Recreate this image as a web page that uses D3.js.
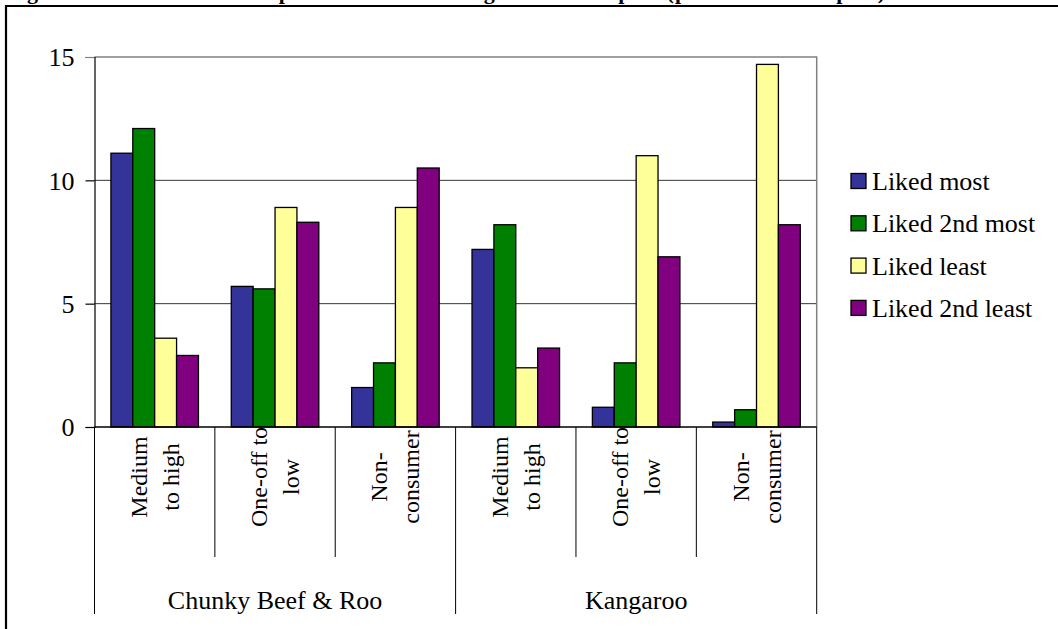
<!DOCTYPE html>
<html>
<head>
<meta charset="utf-8">
<script src="https://cdn.jsdelivr.net/npm/d3@7"></script>
<style>
  body { margin: 0; background: #fff; }
  svg { display: block; }
</style>
</head>
<body>
<svg id="chart"></svg>
<script>
// categories (two lines each, drawn rotated) and the product groups they belong to
const categories = ["C1", "C2", "C3", "K1", "K2", "K3"];
const categoryLines = [
  ["Medium", "to high"], ["One-off to", "low"], ["Non-", "consumer"],
  ["Medium", "to high"], ["One-off to", "low"], ["Non-", "consumer"]
];
const groups = ["Chunky Beef & Roo", "Kangaroo"];
const groupCategories = [["C1", "C2", "C3"], ["K1", "K2", "K3"]];

const series = ["Liked most", "Liked 2nd most", "Liked least", "Liked 2nd least"];
const seriesColors = ["#333399", "#008000", "#ffff99", "#800080"];

// per cent of samples
const likedMost     = [11.1, 5.7, 1.6, 7.2, 0.8, 0.2];
const liked2ndMost  = [12.1, 5.6, 2.6, 8.2, 2.6, 0.7];
const likedLeast    = [3.6, 8.9, 8.9, 2.4, 11.0, 14.7];
const liked2ndLeast = [2.9, 8.3, 10.5, 3.2, 6.9, 8.2];
const seriesValues = [likedMost, liked2ndMost, likedLeast, liked2ndLeast];

const yTicks = [0, 5, 10, 15];
const title = "Figure 4: Consumer taste preferences for kangaroo-based pies (per cent of samples)";

const W = 1058, H = 629;
const plot = { left: 94.5, right: 816.7, top: 57, bottom: 427 };

const svg = d3.select('#chart').attr('width', W).attr('height', H);

// pick a serif face that is really installed (compare widths against two fallbacks)
function pickFont() {
  const cands = ['Liberation Serif', 'Times New Roman', 'Tinos', 'Times', 'Nimbus Roman', 'Nimbus Roman No9 L',
    'DejaVu Serif', 'Noto Serif', 'FreeSerif', 'Georgia', 'PT Serif', 'Droid Serif', 'Bitstream Charter',
    'C059', 'P052', 'STIXGeneral', 'Libertinus Serif', 'Noto Serif CJK SC', 'Noto Serif CJK JP', 'Source Han Serif SC'];
  const probe = svg.append('text').attr('font-size', 40).text('Medium to high Chunky Beef 1015');
  const width = f => { probe.attr('font-family', f); return probe.node().getComputedTextLength(); };
  const baseM = width('monospace'), baseS = width('sans-serif');
  let found = 'serif';
  for (const c of cands) {
    const a = width(`"${c}", monospace`), b = width(`"${c}", sans-serif`);
    if (Math.abs(a - baseM) > 0.5 && Math.abs(b - baseS) > 0.5) { found = `"${c}", serif`; break; }
  }
  probe.remove();
  return found;
}
const FONT = pickFont();
svg.attr('font-family', FONT);

svg.append('rect').attr('width', W).attr('height', H).attr('fill', '#fff');

// caption, mostly cut off by the top of the page
svg.append('text')
  .attr('x', 5).attr('y', -1.5)
  .attr('font-size', 22).attr('font-weight', 'bold')
  .attr('textLength', 880).attr('lengthAdjust', 'spacing')
  .text(title);

// outer frame (runs past right and bottom of the page)
svg.append('path')
  .attr('d', `M6,${H + 5}V6H${W + 5}`)
  .attr('fill', 'none').attr('stroke', '#000').attr('stroke-width', 2.2);

const x0 = d3.scaleBand().domain(categories).range([plot.left, plot.right]);
const x1 = d3.scaleBand().domain(series).range([0, x0.bandwidth()]).paddingOuter(0.75);
const y = d3.scaleLinear().domain([0, 15]).range([plot.bottom, plot.top]);

// gridlines
svg.append('g').selectAll('line').data(yTicks.filter(d => d > 0 && d < 15)).enter()
  .append('line')
  .attr('x1', plot.left).attr('x2', plot.right)
  .attr('y1', d => y(d)).attr('y2', d => y(d))
  .attr('stroke', '#000').attr('stroke-width', 0.8);

// plot area top/right border (grey)
svg.append('path')
  .attr('d', `M${plot.left},${y(15)}H${plot.right}V${plot.bottom}`)
  .attr('fill', 'none').attr('stroke', '#808080').attr('stroke-width', 1.5);

// bars
const rows = categories.map((c, i) => ({ cat: c, vals: series.map((s, j) => ({ s, v: seriesValues[j][i], j })) }));
const cat = svg.append('g').selectAll('g').data(rows).enter()
  .append('g').attr('transform', d => `translate(${x0(d.cat)},0)`);
cat.selectAll('rect').data(d => d.vals).enter()
  .append('rect')
  .attr('x', d => x1(d.s))
  .attr('width', x1.bandwidth())
  .attr('y', d => y(d.v))
  .attr('height', d => y(0) - y(d.v))
  .attr('fill', d => seriesColors[d.j])
  .attr('stroke', '#000').attr('stroke-width', 1.3);

// y axis
const yAxis = svg.append('g')
  .attr('transform', `translate(${plot.left},0)`)
  .call(d3.axisLeft(y).tickValues(yTicks).tickSize(9).tickPadding(11).tickFormat(d3.format('d')))
  .attr('font-family', FONT);
yAxis.select('.domain').attr('stroke', '#000').attr('stroke-width', 1.2);
yAxis.selectAll('.tick line').attr('stroke', (d) => d === 15 ? '#808080' : '#000').attr('stroke-width', 1.2);
yAxis.selectAll('.tick text')
  .attr('font-size', 26).attr('fill', '#000')
  .attr('dy', '0.34em');

// x axis baseline
svg.append('line')
  .attr('x1', plot.left).attr('x2', plot.right)
  .attr('y1', plot.bottom).attr('y2', plot.bottom)
  .attr('stroke', '#000').attr('stroke-width', 1.5);

// category dividers
const edges = categories.map(c => x0(c)).concat([plot.right]);
svg.append('g').selectAll('line').data(edges).enter()
  .append('line')
  .attr('x1', d => d).attr('x2', d => d)
  .attr('y1', plot.bottom)
  .attr('y2', (d, i) => (i % 3 === 0) ? 614 : 557)
  .attr('stroke', '#000').attr('stroke-width', 1);

// rotated category labels
const lab = svg.append('g').selectAll('g').data(categories).enter()
  .append('g')
  .attr('transform', d => `translate(${x0(d) + x0.bandwidth() / 2},477)`);
lab.each(function (d, i) {
  const lines = categoryLines[i];
  d3.select(this).selectAll('text').data(lines).enter()
    .append('text')
    .attr('transform', (t, k) => `translate(${k === 0 ? -8 : 24},0) rotate(-90)`)
    .attr('text-anchor', 'middle')
    .attr('font-size', 24)
    .text(t => t);
});

// group labels
svg.append('g').selectAll('text').data(groups).enter()
  .append('text')
  .attr('x', (g, i) => {
    const cs = groupCategories[i];
    return (x0(cs[0]) + x0(cs[cs.length - 1]) + x0.bandwidth()) / 2;
  })
  .attr('y', 609)
  .attr('text-anchor', 'middle')
  .attr('font-size', 26)
  .text(g => g);

// legend
const legend = svg.append('g').selectAll('g').data(series).enter()
  .append('g')
  .attr('transform', (s, i) => `translate(851,${181 + i * 42.3})`);
legend.append('rect')
  .attr('x', 0).attr('y', -7.5).attr('width', 15).attr('height', 15)
  .attr('fill', (s, i) => seriesColors[i])
  .attr('stroke', '#000').attr('stroke-width', 1.3);
legend.append('text')
  .attr('x', 21).attr('y', 0).attr('dy', '0.35em')
  .attr('font-size', 26)
  .text(s => s);
</script>
</body>
</html>
